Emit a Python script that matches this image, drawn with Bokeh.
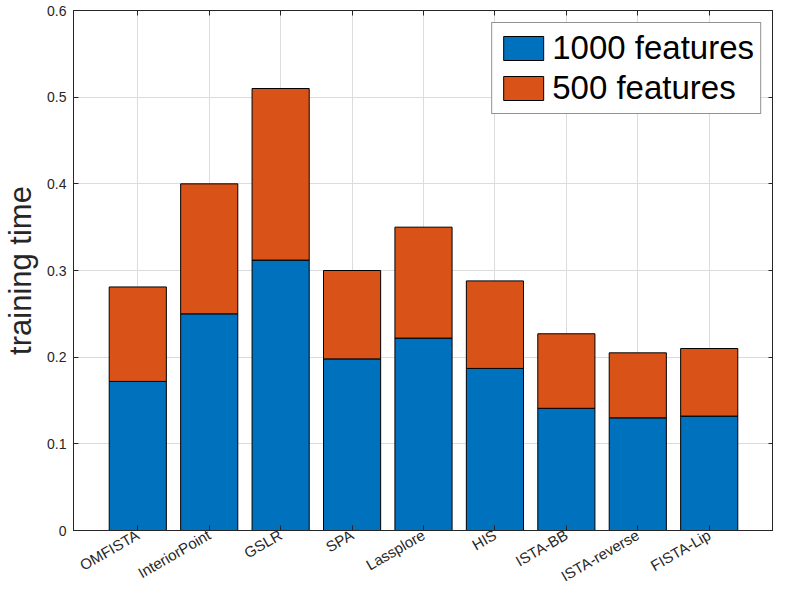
import math
from bokeh.plotting import figure
from bokeh.models import ColumnDataSource, Range1d, FixedTicker, LinearAxis
from bokeh.embed import file_html
from bokeh.resources import INLINE

methods = ["OMFISTA", "InteriorPoint", "GSLR", "SPA", "Lassplore", "HIS",
           "ISTA-BB", "ISTA-reverse", "FISTA-Lip"]
time_1000 = [0.172, 0.250, 0.312, 0.198, 0.222, 0.187, 0.141, 0.130, 0.132]
time_500 = [0.109, 0.150, 0.198, 0.102, 0.128, 0.101, 0.086, 0.075, 0.078]
series_names = ["1000 features", "500 features"]
y_ticks = [0, 0.1, 0.2, 0.3, 0.4, 0.5, 0.6]

positions = list(range(1, len(methods) + 1))
src = ColumnDataSource(dict(x=positions, s1000=time_1000, s500=time_500))

FONT = "Liberation Sans"
AX = "#262626"

p = figure(width=773, height=598, output_backend="svg", toolbar_location=None,
           x_range=Range1d(0.1, 9.9), y_range=Range1d(0, 0.6),
           min_border_left=64, min_border_right=0, min_border_top=10,
           min_border_bottom=68)

p.vbar_stack(["s1000", "s500"], x="x", width=0.8, source=src,
             color=["#0072BD", "#D95319"], line_color="black", line_width=1,
             legend_label=series_names)

p.outline_line_color = AX
p.outline_line_width = 1

# bottom axis
xa = p.xaxis[0]
xa.ticker = FixedTicker(ticks=positions)
xa.major_label_overrides = {i: m for i, m in zip(positions, methods)}
xa.major_label_orientation = math.radians(30)
xa.major_label_text_font = FONT
xa.major_label_text_font_size = "15px"
xa.major_label_text_color = AX
xa.major_label_standoff = 3
xa.major_tick_in = 5
xa.major_tick_out = 0
xa.minor_tick_line_color = None
xa.axis_line_color = AX
xa.major_tick_line_color = AX

# left axis
ya = p.yaxis[0]
ya.ticker = FixedTicker(ticks=y_ticks)
ya.major_label_overrides = {0: "0"}
ya.major_label_text_font = FONT
ya.major_label_text_font_size = "14px"
ya.major_label_text_color = AX
ya.major_label_standoff = 7
ya.major_tick_in = 5
ya.major_tick_out = 0
ya.minor_tick_line_color = None
ya.axis_line_color = AX
ya.major_tick_line_color = AX
ya.axis_label = "training time"
ya.axis_label_text_font = FONT
ya.axis_label_text_font_size = "31px"
ya.axis_label_text_font_style = "normal"
ya.axis_label_text_color = AX
ya.axis_label_standoff = 6

# top and right axes (box ticks only)
top = LinearAxis(ticker=FixedTicker(ticks=positions),
                 major_label_overrides={i: "" for i in positions},
                 major_label_standoff=0, major_tick_in=5, major_tick_out=0,
                 minor_tick_line_color=None, axis_line_color=AX, major_tick_line_color=AX)
right = LinearAxis(ticker=FixedTicker(ticks=y_ticks),
                   major_label_overrides={0: "", 0.1: "", 0.2: "", 0.3: "", 0.4: "", 0.5: "", 0.6: ""},
                   major_label_standoff=0, major_tick_in=5, major_tick_out=0,
                   minor_tick_line_color=None, axis_line_color=AX, major_tick_line_color=AX)
p.add_layout(top, "above")
p.add_layout(right, "right")

# grids
p.xgrid.ticker = FixedTicker(ticks=positions)
p.ygrid.ticker = FixedTicker(ticks=y_ticks)
p.grid.grid_line_color = "#dcdcdc"
p.grid.grid_line_width = 1

# legend
lg = p.legend[0]
lg.location = "top_right"
lg.margin = 12
lg.padding = 6
lg.spacing = 2
lg.glyph_width = 50
lg.glyph_height = 30
lg.label_standoff = 4
lg.label_text_font = FONT
lg.label_text_font_size = "33px"
lg.label_text_color = "black"
lg.border_line_color = AX
lg.border_line_width = 1
lg.background_fill_alpha = 1.0

open("out.html", "w").write(file_html(p, INLINE))
